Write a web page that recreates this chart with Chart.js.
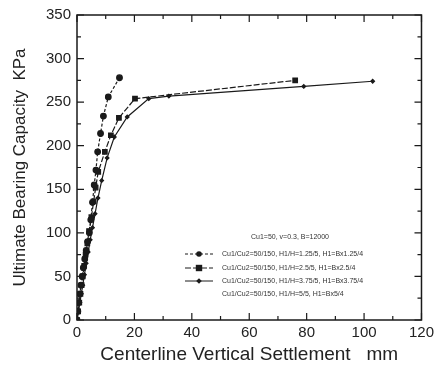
<!DOCTYPE html>
<html><head><meta charset="utf-8">
<script src="https://cdn.jsdelivr.net/npm/chart.js@4.4.0/dist/chart.umd.min.js"></script>
<style>html,body{margin:0;padding:0;background:#fff}#wrap{width:438px;height:367px}</style>
</head><body><div id="wrap"><canvas id="c" width="438" height="367"></canvas></div>
<script>
// ---- data ----
const xTicks = [0, 20, 40, 60, 80, 100, 120];
const yTicks = [0, 50, 100, 150, 200, 250, 300, 350];
const legendTitle = "Cu1=50, v=0.3, B=12000";
const seriesLabels = [
  "Cu1/Cu2=50/150, H1/H=1.25/5, H1=Bx1.25/4",
  "Cu1/Cu2=50/150, H1/H=2.5/5, H1=Bx2.5/4",
  "Cu1/Cu2=50/150, H1/H=3.75/5, H1=Bx3.75/4",
  "Cu1/Cu2=50/150, H1/H=5/5, H1=Bx5/4"
];
const s1x = [0, 0.3, 0.6, 1.0, 1.4, 1.8, 2.2, 2.7, 3.2, 3.7, 4.3, 4.8, 5.4, 6.0, 6.6, 7.2, 8.2, 9.2, 10.9, 14.8];
const s1y = [0, 10, 20, 30, 40, 50, 60, 70, 80, 90, 100, 115, 135, 155, 172, 193, 214, 234, 256, 278];
const s2x = [0, 0.4, 0.8, 1.2, 1.6, 2.0, 2.5, 3.0, 3.6, 4.2, 5.0, 5.8, 6.5, 7.4, 9.7, 11.8, 14.6, 20.2, 76];
const s2y = [0, 10, 20, 30, 40, 50, 62, 75, 88, 102, 118, 136, 152, 170, 193, 212, 232, 254, 275];
const s3x = [0, 0.5, 1.0, 1.5, 2.0, 2.6, 3.2, 3.9, 4.6, 5.4, 6.3, 7.3, 8.6, 10.5, 13.0, 17.5, 25, 32, 79, 103];
const s3y = [0, 10, 20, 30, 40, 52, 65, 78, 92, 106, 122, 140, 160, 186, 210, 233, 254, 257, 268, 274];
const s4x = [];
const s4y = [];

const pts = (xs, ys) => xs.map((v, i) => ({x: v, y: ys[i]}));
const ink = '#1a1a1a';
const FAM = '"Liberation Sans", Arial, sans-serif';

const frame = {
  id: 'frame',
  afterDraw(chart) {
    const {ctx, chartArea: a, scales: {x, y}} = chart;
    ctx.save();
    ctx.strokeStyle = ink; ctx.lineWidth = 1.5;
    ctx.strokeRect(a.left, a.top, a.right - a.left, a.bottom - a.top);
    ctx.lineWidth = 1.2;
    for (let v = 0; v <= 120; v += 10) {
      const p = x.getPixelForValue(v), L = v % 20 === 0 ? 7 : 4;
      ctx.beginPath();
      ctx.moveTo(p, a.bottom); ctx.lineTo(p, a.bottom - L);
      ctx.moveTo(p, a.top); ctx.lineTo(p, a.top + L);
      ctx.stroke();
    }
    for (let v = 0; v <= 350; v += 25) {
      const p = y.getPixelForValue(v), L = v % 50 === 0 ? 7 : 4;
      ctx.beginPath();
      ctx.moveTo(a.left, p); ctx.lineTo(a.left + L, p);
      ctx.moveTo(a.right, p); ctx.lineTo(a.right - L, p);
      ctx.stroke();
    }
    // legend
    ctx.fillStyle = '#333';
    ctx.font = '7px ' + FAM;
    ctx.textBaseline = 'middle';
    ctx.textAlign = 'center';
    ctx.fillText(legendTitle, 290, 237);
    ctx.textAlign = 'left';
    const rows = [254, 268, 281, 294];
    chart.data.datasets.forEach((ds, i) => {
      const ry = rows[i];
      if (ds.data.length) {
        ctx.save();
        ctx.strokeStyle = ink; ctx.lineWidth = 1;
        ctx.setLineDash(ds.borderDash || []);
        ctx.beginPath(); ctx.moveTo(185, ry); ctx.lineTo(213, ry); ctx.stroke();
        ctx.setLineDash([]);
        ctx.fillStyle = ink;
        const r = ds.pointRadius;
        ctx.beginPath();
        if (ds.pointStyle === 'circle') { ctx.arc(199, ry, r, 0, Math.PI * 2); }
        else if (ds.pointStyle === 'rect') { ctx.rect(199 - r, ry - r, 2 * r, 2 * r); }
        else { ctx.moveTo(199, ry - r - 1); ctx.lineTo(199 + r + 1, ry); ctx.lineTo(199, ry + r + 1); ctx.lineTo(199 - r - 1, ry); ctx.closePath(); }
        ctx.fill();
        ctx.restore();
      }
      ctx.fillText(ds.label, 222, ry);
    });
    ctx.restore();
  }
};

new Chart(document.getElementById('c'), {
  type: 'scatter',
  data: {
    datasets: [
      {label: seriesLabels[0], data: pts(s1x, s1y), showLine: true, borderColor: ink, backgroundColor: ink, borderWidth: 1.2, borderDash: [3, 2], pointStyle: 'circle', pointRadius: 2.8},
      {label: seriesLabels[1], data: pts(s2x, s2y), showLine: true, borderColor: ink, backgroundColor: ink, borderWidth: 1.2, borderDash: [6, 2], pointStyle: 'rect', pointRadius: 3.2},
      {label: seriesLabels[2], data: pts(s3x, s3y), showLine: true, borderColor: ink, backgroundColor: ink, borderWidth: 1.2, pointStyle: 'rectRot', pointRadius: 1.8},
      {label: seriesLabels[3], data: pts(s4x, s4y), showLine: true, borderColor: ink, backgroundColor: ink, borderWidth: 1.2, pointRadius: 0}
    ]
  },
  options: {
    responsive: false, animation: false,
    layout: {padding: {top: 15, right: 13, left: 0, bottom: 0}},
    plugins: {legend: {display: false}, tooltip: {enabled: false}},
    scales: {
      x: {
        type: 'linear', min: 0, max: 120,
        afterBuildTicks: s => { s.ticks = xTicks.map(v => ({value: v})); },
        afterFit: s => { s.height = 47; },
        grid: {display: false, drawTicks: false},
        border: {display: false},
        ticks: {color: '#222', font: {size: 15, family: FAM}, padding: 4, maxRotation: 0},
        title: {display: true, text: 'Centerline Vertical Settlement   mm', color: '#222', font: {size: 19, family: FAM}, padding: {top: 0, bottom: 1}}
      },
      y: {
        type: 'linear', min: 0, max: 350,
        afterBuildTicks: s => { s.ticks = yTicks.map(v => ({value: v})); },
        afterFit: s => { s.width = 77; },
        grid: {display: false, drawTicks: false},
        border: {display: false},
        ticks: {color: '#222', font: {size: 15, family: FAM}, padding: 6},
        title: {display: true, text: 'Ultimate Bearing Capacity  KPa', color: '#222', font: {size: 17, family: FAM}, padding: {top: 10, bottom: 0}}
      }
    }
  },
  plugins: [frame]
});
</script></body></html>
